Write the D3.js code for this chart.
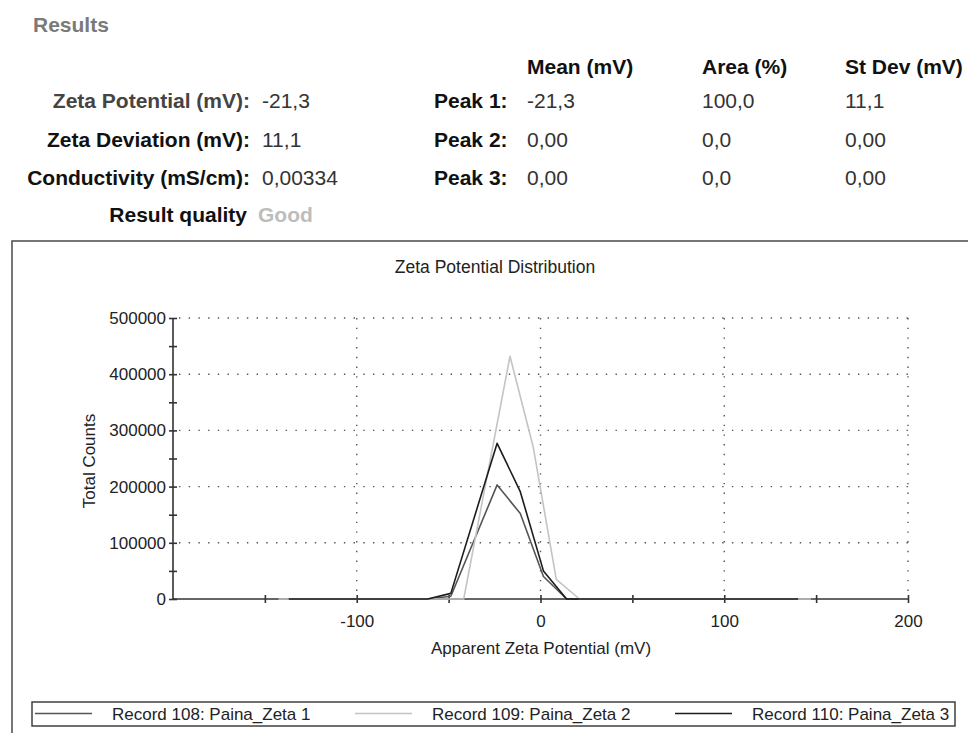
<!DOCTYPE html>
<html>
<head>
<meta charset="utf-8">
<script src="https://cdn.jsdelivr.net/npm/d3@7"></script>
<style>
  body { margin: 0; background: #fff; }
  svg { display: block; font-family: "Liberation Sans", Arial, sans-serif; }
</style>
</head>
<body>
<svg width="968" height="733"></svg>
<script>
// --- data ---
var summaryLabels = ["Zeta Potential (mV):", "Zeta Deviation (mV):", "Conductivity (mS/cm):"];
var summaryValues = ["-21,3", "11,1", "0,00334"];
var peakHeaders = ["Mean (mV)", "Area (%)", "St Dev (mV)"];
var peakNames = ["Peak 1:", "Peak 2:", "Peak 3:"];
var peakMean = ["-21,3", "0,00", "0,00"];
var peakArea = ["100,0", "0,0", "0,0"];
var peakStdev = ["11,1", "0,00", "0,00"];

var xMajor = [-100, 0, 100, 200];
var xMinor = [-150, -50, 50, 150];
var yMajor = [0, 100000, 200000, 300000, 400000, 500000];
var yMinor = [50000, 150000, 250000, 350000, 450000];

var rec108X = [-137, -61.4, -48.8, -23.6, -11.0, 1.6, 14.2, 140.2];
var rec108Y = [0, 0, 5000, 203000, 152000, 40000, 0, 0];
var rec109X = [-142.6, -41.8, -16.6, -4.0, 8.6, 21.2, 147.2];
var rec109Y = [0, 0, 432000, 271000, 35000, 0, 0];
var rec110X = [-137, -61.4, -48.8, -23.6, -11.0, 1.6, 14.2, 140.2];
var rec110Y = [0, 0, 10000, 277000, 191000, 50000, 0, 0];

var seriesNames = ["Record 108: Paina_Zeta 1", "Record 109: Paina_Zeta 2", "Record 110: Paina_Zeta 3"];
var seriesColors = ["#555555", "#c4c4c4", "#1c1c1c"];

var series = [
  {name: seriesNames[0], color: seriesColors[0], xs: rec108X, ys: rec108Y},
  {name: seriesNames[1], color: seriesColors[1], xs: rec109X, ys: rec109Y},
  {name: seriesNames[2], color: seriesColors[2], xs: rec110X, ys: rec110Y}
];

var svg = d3.select("svg");

// --- results header ---
var head = svg.append("g").attr("font-weight", "bold").attr("font-size", "21px");

head.append("text").text("Results").attr("x", 33).attr("y", 32).attr("fill", "#7a7a7a");

head.selectAll("text.colh")
  .data(peakHeaders)
  .enter()
  .append("text")
  .attr("class", "colh")
  .attr("x", function(d, i){ return [527, 702, 845][i]; })
  .attr("y", 74)
  .attr("fill", "#111")
  .text(function(d){ return d; });

var rowY = [108, 146.5, 185];

head.selectAll("text.lab")
  .data(summaryLabels)
  .enter()
  .append("text")
  .attr("class", "lab")
  .attr("x", 250)
  .attr("y", function(d, i){ return rowY[i]; })
  .attr("text-anchor", "end")
  .attr("fill", function(d, i){ return i == 0 ? "#444" : "#111"; })
  .text(function(d){ return d; });

svg.selectAll("text.val")
  .data(summaryValues)
  .enter()
  .append("text")
  .attr("class", "val")
  .attr("x", 262)
  .attr("y", function(d, i){ return rowY[i]; })
  .attr("font-size", "21px")
  .attr("fill", "#333")
  .text(function(d){ return d; });

head.selectAll("text.pk")
  .data(peakNames)
  .enter()
  .append("text")
  .attr("class", "pk")
  .attr("x", 434)
  .attr("y", function(d, i){ return rowY[i]; })
  .attr("fill", "#111")
  .text(function(d){ return d; });

[peakMean, peakArea, peakStdev].forEach(function(col, c){
  svg.selectAll("text.pcol" + c)
    .data(col)
    .enter()
    .append("text")
    .attr("class", "pcol" + c)
    .attr("x", [527, 702, 845][c])
    .attr("y", function(d, i){ return rowY[i]; })
    .attr("font-size", "21px")
    .attr("fill", "#333")
    .text(function(d){ return d; });
});

head.append("text").text("Result quality")
  .attr("x", 247).attr("y", 222).attr("text-anchor", "end").attr("fill", "#111");
head.append("text").text("Good")
  .attr("x", 258).attr("y", 222).attr("fill", "#bdbdbd");

// --- chart frame ---
svg.append("rect")
  .attr("x", 12).attr("y", 241)
  .attr("width", 1000).attr("height", 600)
  .attr("fill", "none")
  .attr("stroke", "#555")
  .attr("stroke-width", 1.6);

svg.append("text")
  .text("Zeta Potential Distribution")
  .attr("x", 495).attr("y", 273)
  .attr("text-anchor", "middle")
  .attr("font-size", "17.5px")
  .attr("fill", "#222");

var x = d3.scaleLinear().domain([-200, 200]).range([173, 908]);
var y = d3.scaleLinear().domain([0, 500000]).range([599, 318]);

// grid
var grid = svg.append("g")
  .attr("stroke", "#555")
  .attr("stroke-width", 1.4)
  .attr("stroke-dasharray", "1.4,8.3");

grid.selectAll("line.gy")
  .data(yMajor.slice(1))
  .enter()
  .append("line")
  .attr("class", "gy")
  .attr("x1", x(-200) + 6).attr("x2", x(200))
  .attr("y1", function(d){ return y(d); })
  .attr("y2", function(d){ return y(d); });

grid.selectAll("line.gx")
  .data(xMajor)
  .enter()
  .append("line")
  .attr("class", "gx")
  .attr("x1", function(d){ return x(d); })
  .attr("x2", function(d){ return x(d); })
  .attr("y1", y(500000))
  .attr("y2", y(0) - 6);

// axes
var xAxis = svg.append("g")
  .attr("transform", "translate(0," + y(0) + ")")
  .call(d3.axisBottom(x).tickValues(xMajor).tickSize(4).tickPadding(12)
        .tickFormat(function(d){ return d; }));
var xAxisMinor = svg.append("g")
  .attr("transform", "translate(0," + y(0) + ")")
  .call(d3.axisBottom(x).tickValues(xMinor).tickSize(4).tickFormat(""));

var yAxis = svg.append("g")
  .attr("transform", "translate(" + x(-200) + ",0)")
  .call(d3.axisLeft(y).tickValues(yMajor).tickSize(4).tickPadding(3)
        .tickFormat(function(d){ return d; }));
var yAxisMinor = svg.append("g")
  .attr("transform", "translate(" + x(-200) + ",0)")
  .call(d3.axisLeft(y).tickValues(yMinor).tickSize(4).tickFormat(""));

[xAxis, xAxisMinor].forEach(function(a){
  a.selectAll(".tick line").attr("y1", -4).attr("y2", 4);
});
[yAxis, yAxisMinor].forEach(function(a){
  a.selectAll(".tick line").attr("x1", -4).attr("x2", 4);
});
[xAxis, xAxisMinor, yAxis, yAxisMinor].forEach(function(a){
  a.select(".domain").attr("stroke", "#333").attr("stroke-width", 1.6);
  a.selectAll(".tick line").attr("stroke", "#333").attr("stroke-width", 1.6);
  a.selectAll("text")
    .attr("font-family", "Liberation Sans, Arial, sans-serif")
    .attr("font-size", "17px")
    .attr("fill", "#222");
});
xAxis.select(".domain").attr("d", "M" + x(-200) + ",0H" + x(200));
yAxis.select(".domain").attr("d", "M0," + y(0) + "V" + y(500000));
xAxisMinor.select(".domain").remove();
yAxisMinor.select(".domain").remove();

svg.append("text")
  .text("Apparent Zeta Potential (mV)")
  .attr("x", 541).attr("y", 654)
  .attr("text-anchor", "middle")
  .attr("font-size", "17px")
  .attr("fill", "#222");

svg.append("text")
  .text("Total Counts")
  .attr("transform", "translate(95,461) rotate(-90)")
  .attr("text-anchor", "middle")
  .attr("font-size", "17px")
  .attr("fill", "#222");

// series
var line = d3.line()
  .x(function(d){ return x(d[0]); })
  .y(function(d){ return y(d[1]); });

svg.selectAll("path.series")
  .data(series)
  .enter()
  .append("path")
  .attr("class", "series")
  .attr("fill", "none")
  .attr("stroke", function(d){ return d.color; })
  .attr("stroke-width", 1.6)
  .attr("stroke-linejoin", "round")
  .attr("d", function(d){
    return line(d.xs.map(function(v, i){ return [v, d.ys[i]]; }));
  });

// legend
var leg = svg.append("g");
leg.append("rect")
  .attr("x", 32).attr("y", 702)
  .attr("width", 923).attr("height", 24)
  .attr("fill", "#fff")
  .attr("stroke", "#333")
  .attr("stroke-width", 1.4);

var legItems = leg.selectAll("g.item")
  .data(series)
  .enter()
  .append("g")
  .attr("class", "item")
  .attr("transform", function(d, i){ return "translate(" + (35 + i * 320) + ",0)"; });

legItems.append("line")
  .attr("x1", 0).attr("x2", 57)
  .attr("y1", 713.5).attr("y2", 713.5)
  .attr("stroke", function(d){ return d.color; })
  .attr("stroke-width", 1.6);

legItems.append("text")
  .attr("x", 77).attr("y", 720)
  .attr("font-size", "17px")
  .attr("fill", "#222")
  .text(function(d){ return d.name; });
</script>
</body>
</html>
